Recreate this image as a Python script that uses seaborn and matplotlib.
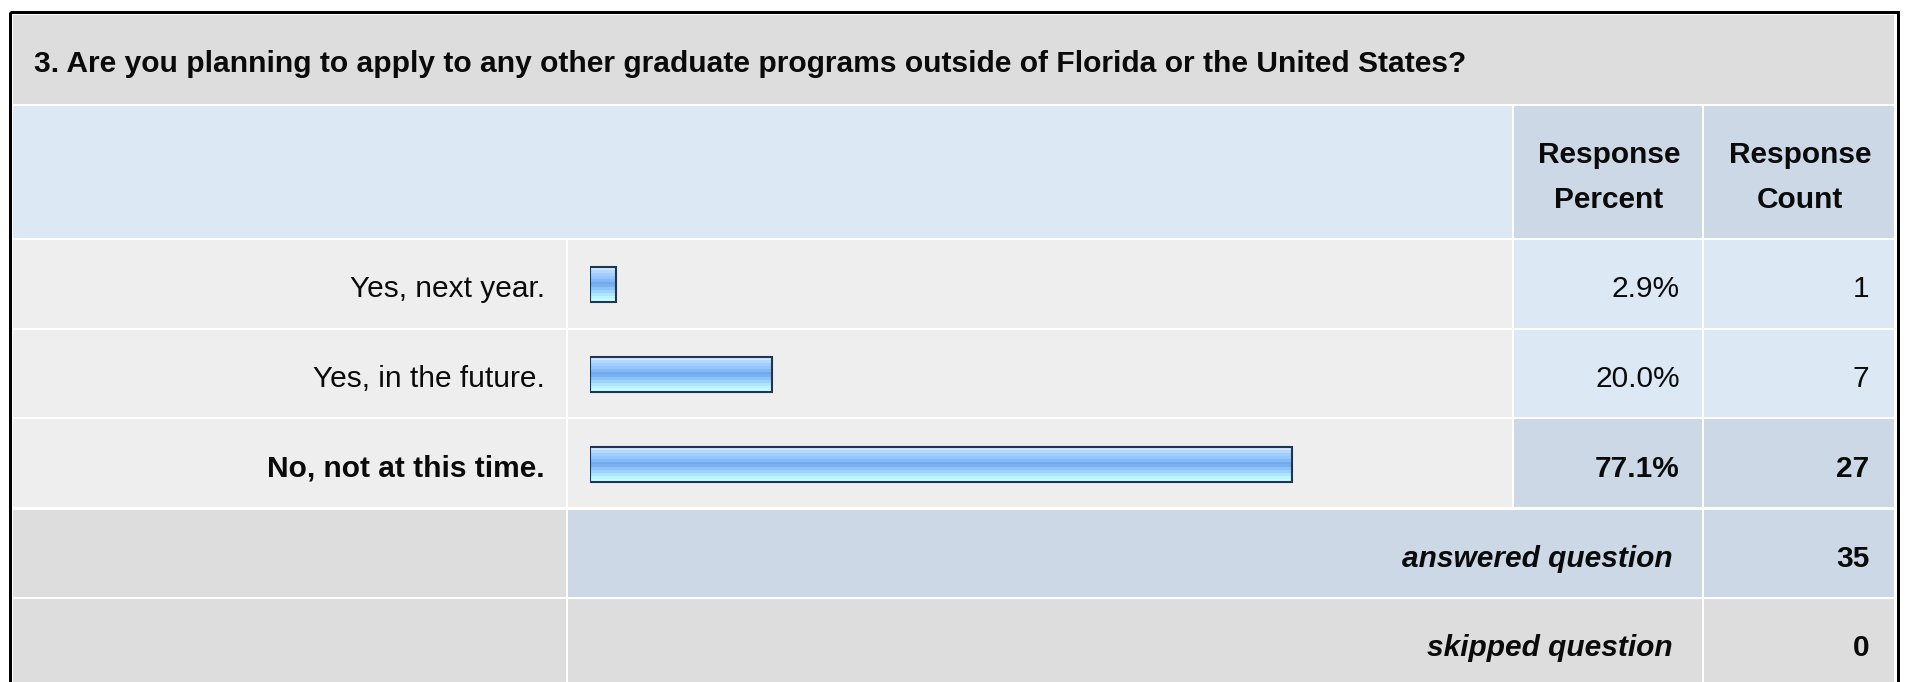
import numpy as np
import pandas as pd
import matplotlib
matplotlib.use("Agg")
import matplotlib.pyplot as plt
import matplotlib.transforms as mtrans
from matplotlib.patches import Rectangle
from matplotlib.colors import to_rgb
import seaborn as sns

# ---------------- data ----------------
question = "3. Are you planning to apply to any other graduate programs outside of Florida or the United States?"
answers = ["Yes, next year.", "Yes, in the future.", "No, not at this time."]
percents = [2.9, 20.0, 77.1]
counts = [1, 7, 27]
header_cols = ["Response\nPercent", "Response\nCount"]
summary_labels = ["answered question", "skipped question"]
summary_values = [35, 0]

# ---------------- style ----------------
sns.set_theme(style="white")
plt.rcParams["font.family"] = ["Liberation Sans", "DejaVu Sans"]

W, H = 1909, 682
fig = plt.figure(figsize=(W / 100, H / 100), dpi=100)
fig.patch.set_facecolor("white")

bg = fig.add_axes([0, 0, 1, 1])
bg.set_xlim(0, W)
bg.set_ylim(H, 0)
bg.axis("off")

TITLE_BG = "#dddddd"
HEAD_BG = "#dde8f5"
HEAD_CELL = "#ccd8e6"
ROW_BG = "#eeeeee"
VAL_BG = "#dde8f5"
VAL_HI = "#ccd8e6"
TXT = "#0a0a0a"

C_ALL = (13, 1894)
C_LAB = (13, 566)
C_BAR = (568, 1512)
C_PCT = (1514, 1702)
C_CNT = (1704, 1894)
Y_TITLE = (15, 104)
Y_HEAD = (106, 238)
ROW_TOP, ROW_BOT = 240, 509
Y_SUM = [(510, 597), (599, 700)]
FS = 21.5


def cell(x, y, color, z=1):
    bg.add_patch(Rectangle((x[0], y[0]), x[1] - x[0], y[1] - y[0],
                           facecolor=color, edgecolor="none", zorder=z))


# title + header
cell(C_ALL, Y_TITLE, TITLE_BG)
bg.text(34, 72, question, ha="left", va="baseline", fontsize=21.6,
        fontweight="bold", color=TXT, zorder=5)
cell((13, 1512), Y_HEAD, HEAD_BG)
cell(C_PCT, Y_HEAD, HEAD_CELL)
cell(C_CNT, Y_HEAD, HEAD_CELL)
for col, hdr in zip([C_PCT, C_CNT], header_cols):
    for j, line in enumerate(hdr.split("\n")):
        bg.text((col[0] + col[1]) / 2 + 1, 163 + 45 * j, line, ha="center",
                va="baseline", fontsize=FS, fontweight="bold",
                color=TXT, zorder=5)

# ---------------- bar axes (percent scale) ----------------
ax = fig.add_axes([590 / W, (H - ROW_BOT) / H, 910 / W, (ROW_BOT - ROW_TOP) / H])
df = pd.DataFrame({"answer": answers, "percent": percents, "count": counts})
sns.barplot(data=df, x="percent", y="answer", orient="h", ax=ax, width=0.39,
            color="#8cc0f8", edgecolor="#1c3656", linewidth=1.5, saturation=1)
ax.set_xlim(0, 100)
ax.set_ylim(len(answers) - 0.5, -0.5)
ax.axis("off")
ax.patch.set_alpha(0)

grad_cols = ["#d0e8ff", "#b6daff", "#a2cfff", "#94c6ff", "#84b9f7", "#72a9ed",
             "#78b0f1", "#8cc3f8", "#9cd3fc", "#ade5ff", "#bdf5ff", "#c6ffff"]
grad = np.array([to_rgb(c) for c in grad_cols]).reshape(-1, 1, 3)
for p in ax.patches:
    x0, y0, w, h = p.get_x(), p.get_y(), p.get_width(), p.get_height()
    im = ax.imshow(grad, extent=(x0, x0 + w, y0 + h, y0), origin="upper",
                   aspect="auto", interpolation="nearest", zorder=2.5)
    im.set_clip_path(p)
    p.set_facecolor("none")
    p.set_zorder(3)
ax.set_xlim(0, 100)
ax.set_ylim(len(answers) - 0.5, -0.5)

# row cells and texts, tied to the categorical rows of the bar axes
row_tr = mtrans.blended_transform_factory(bg.transData, ax.transData)
pitch = (ROW_BOT - ROW_TOP) / len(answers)
gap = 2.0 / pitch
txt_tr = mtrans.offset_copy(row_tr, fig=fig, y=-12.5, units="dots")
imax = int(np.argmax(counts))
for i, (a, pc, c) in enumerate(zip(answers, percents, counts)):
    hi = i == imax
    for col, colr in [(C_LAB, ROW_BG), (C_BAR, ROW_BG),
                      (C_PCT, VAL_HI if hi else VAL_BG),
                      (C_CNT, VAL_HI if hi else VAL_BG)]:
        bg.add_patch(Rectangle((col[0], i - 0.5), col[1] - col[0], 1 - gap,
                               transform=row_tr, facecolor=colr,
                               edgecolor="none", zorder=1))
    fw = "bold" if hi else "normal"
    bg.text(545, i, a, transform=txt_tr, ha="right", va="baseline",
            fontsize=FS, fontweight=fw, color=TXT, zorder=5)
    bg.text(1680, i, f"{pc:.1f}%", transform=txt_tr, ha="right",
            va="baseline", fontsize=FS, fontweight=fw, color=TXT, zorder=5)
    bg.text(1869, i, f"{c}", transform=txt_tr, ha="right", va="baseline",
            fontsize=FS, fontweight=fw, color=TXT, zorder=5)

# summary rows
sum_cols = [[TITLE_BG, HEAD_CELL, HEAD_CELL], [TITLE_BG, TITLE_BG, TITLE_BG]]
for k, (lab, val) in enumerate(zip(summary_labels, summary_values)):
    y = Y_SUM[k]
    cell(C_LAB, y, sum_cols[k][0])
    cell((568, 1702), y, sum_cols[k][1])
    cell(C_CNT, y, sum_cols[k][2])
    base = y[0] + 57
    bg.text(1673, base, lab, ha="right", va="baseline", fontsize=FS,
            fontweight="bold", fontstyle="italic", color=TXT, zorder=5)
    bg.text(1870, base, f"{val}", ha="right", va="baseline", fontsize=FS,
            fontweight="bold", color=TXT, zorder=5)

# outer frame
bg.add_patch(Rectangle((9.5, 11.5), 1888, 720, facecolor="none",
                       edgecolor="black", linewidth=2.16, zorder=6))

fig.savefig("out.png", dpi=100, facecolor="white")
